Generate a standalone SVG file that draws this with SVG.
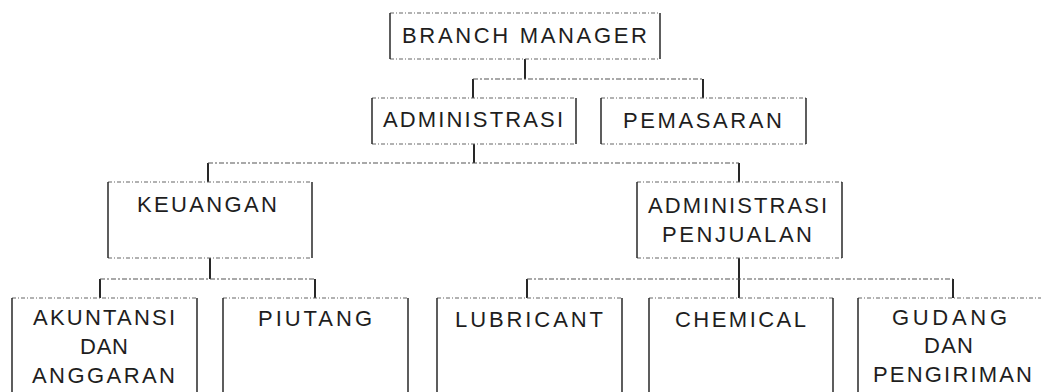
<svg xmlns="http://www.w3.org/2000/svg" width="1041" height="392" viewBox="0 0 1041 392">
<style>
.h{fill:none;stroke:#666;stroke-width:1.1;stroke-dasharray:4 2 1 2}
.v{fill:none;stroke:#1a1a1a;stroke-width:1.4}
.c{fill:none;stroke:#111;stroke-width:1.8}
.ch{fill:none;stroke:#555;stroke-width:1.1;stroke-dasharray:5 2 2 2}
text{font-family:"Liberation Sans",Arial,sans-serif;font-size:22px;fill:#1e1e1e}
</style>
<rect width="1041" height="392" fill="#fff"/>
<g id="connectors">
<path class="c" d="M525 59V79M473 79V98M703 79V98"/>
<path class="ch" d="M473 79H703"/>
<path class="c" d="M474 144V163M208 163V182M739 163V182"/>
<path class="ch" d="M208 163H739"/>
<path class="c" d="M210 258V279M100 279V298M315 279V298"/>
<path class="ch" d="M100 279H315"/>
<path class="c" d="M739 258V279M527 279V298M739 279V298M953 279V298"/>
<path class="ch" d="M527 279H953"/>
</g>
<g id="branch-manager">
<path class="h" d="M390 13H660M390 59H660"/>
<path class="v" d="M390 13V59M660 13V59"/>
<text x="402" y="43" textLength="245" lengthAdjust="spacing">BRANCH MANAGER</text>
</g>
<g id="administrasi">
<path class="h" d="M372 98H576M372 144H576"/>
<path class="v" d="M372 98V144M576 98V144"/>
<text x="383" y="127" textLength="180" lengthAdjust="spacing">ADMINISTRASI</text>
</g>
<g id="pemasaran">
<path class="h" d="M601 98H806M601 144H806"/>
<path class="v" d="M601 98V144M806 98V144"/>
<text x="623" y="128" textLength="159" lengthAdjust="spacing">PEMASARAN</text>
</g>
<g id="keuangan">
<path class="h" d="M108 182H312M108 258H312"/>
<path class="v" d="M108 182V258M312 182V258"/>
<text x="137" y="212" textLength="140" lengthAdjust="spacing">KEUANGAN</text>
</g>
<g id="administrasi-penjualan">
<path class="h" d="M637 182H842M637 258H842"/>
<path class="v" d="M637 182V258M842 182V258"/>
<text x="648" y="213" textLength="179" lengthAdjust="spacing">ADMINISTRASI</text>
<text x="662" y="242" textLength="150" lengthAdjust="spacing">PENJUALAN</text>
</g>
<g id="akuntansi">
<path class="h" d="M12 298H197"/>
<path class="v" d="M12 298V400M197 298V400"/>
<text x="33" y="325" textLength="142" lengthAdjust="spacing">AKUNTANSI</text>
<text x="80" y="354" textLength="48" lengthAdjust="spacing">DAN</text>
<text x="32" y="383" textLength="143" lengthAdjust="spacing">ANGGARAN</text>
</g>
<g id="piutang">
<path class="h" d="M223 298H408"/>
<path class="v" d="M223 298V400M408 298V400"/>
<text x="258" y="326" textLength="114" lengthAdjust="spacing">PIUTANG</text>
</g>
<g id="lubricant">
<path class="h" d="M437 298H622"/>
<path class="v" d="M437 298V400M622 298V400"/>
<text x="455" y="327" textLength="148" lengthAdjust="spacing">LUBRICANT</text>
</g>
<g id="chemical">
<path class="h" d="M649 298H833"/>
<path class="v" d="M649 298V400M833 298V400"/>
<text x="675" y="327" textLength="131" lengthAdjust="spacing">CHEMICAL</text>
</g>
<g id="gudang">
<path class="h" d="M858 298H1046"/>
<path class="v" d="M858 298V400M1046 298V400"/>
<text x="892" y="325" textLength="115" lengthAdjust="spacing">GUDANG</text>
<text x="924" y="353" textLength="49" lengthAdjust="spacing">DAN</text>
<text x="873" y="382" textLength="159" lengthAdjust="spacing">PENGIRIMAN</text>
</g>
</svg>
